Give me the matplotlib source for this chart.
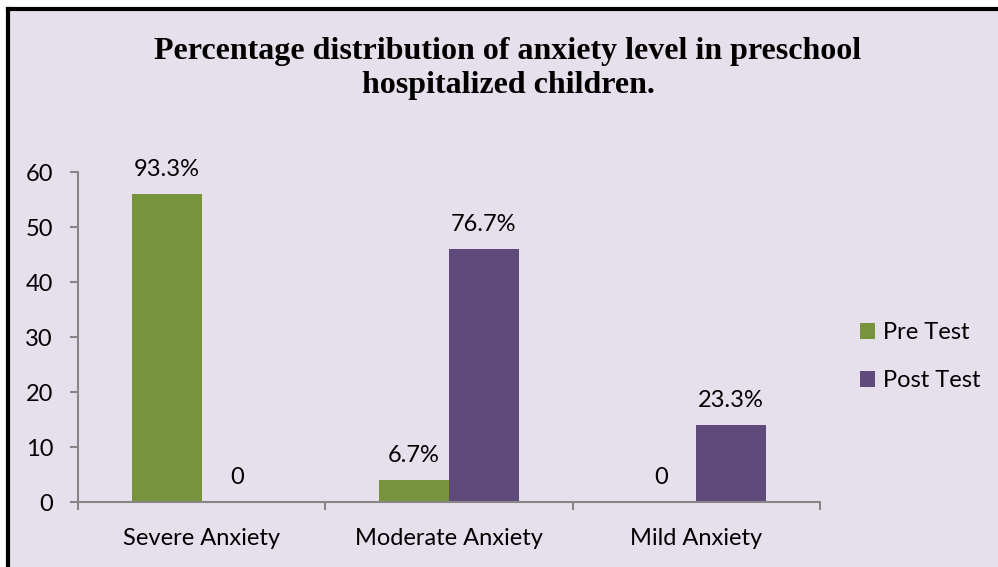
import numpy as np
import matplotlib.pyplot as plt
from matplotlib.patches import Rectangle

# ---------- dados ----------
categorias = ["Severe Anxiety", "Moderate Anxiety", "Mild Anxiety"]
pre_test = [56, 4, 0]
post_test = [0, 46, 14]
rotulos_pre = ["93.3%", "6.7%", "0"]
rotulos_post = ["0", "76.7%", "23.3%"]

verde = "#77933C"
roxo = "#604A7B"
fundo = "#E6E0EC"
cinza = "#868686"
fonte = "Lato"
tam = 17

fig = plt.figure(figsize=(9.98, 5.67), dpi=100)
fig.patch.set_facecolor("white")

# fundo lilas com borda preta (esquerda e topo)
fig.patches.append(Rectangle((0.0085, 0), 1.0, 0.985, transform=fig.transFigure,
                             facecolor=fundo, edgecolor="none", zorder=-5))
fig.add_artist(plt.Line2D([0.0085, 0.0085], [0, 0.985], transform=fig.transFigure,
                          color="black", lw=3, zorder=-4))
fig.add_artist(plt.Line2D([0.0085, 1.0], [0.985, 0.985], transform=fig.transFigure,
                          color="black", lw=3, zorder=-4))

ax = fig.add_axes([0.0782, 0.1146, 0.7434, 0.582])
ax.set_zorder(2)
ax.set_facecolor("none")

x = np.arange(len(categorias))
largura = 0.283
b1 = ax.bar(x - largura / 2, pre_test, largura, color=verde, label="Pre Test")
b2 = ax.bar(x + largura / 2, post_test, largura, color=roxo, label="Post Test")

for barras, rotulos in [(b1, rotulos_pre), (b2, rotulos_post)]:
    for barra, txt in zip(barras, rotulos):
        ax.annotate(txt, (barra.get_x() + barra.get_width() / 2, barra.get_height()),
                    xytext=(0, 10), textcoords="offset points", ha="center", va="bottom",
                    fontsize=tam, family=fonte)

ax.set_xlim(-0.5, 2.5)
ax.set_ylim(0, 60)
ax.set_yticks(range(0, 61, 10))
ax.set_xticks(x)
ax.set_xticklabels(categorias, fontsize=tam, family=fonte)
ax.set_xticks([-0.5, 0.5, 1.5, 2.5], minor=True)
ax.tick_params(axis="x", which="major", length=0, pad=19)
ax.tick_params(axis="x", which="minor", length=6, color=cinza, width=1.5)
ax.tick_params(axis="y", length=6, color=cinza, width=1.5, pad=12, labelsize=tam)
for t in ax.get_yticklabels():
    t.set_family(fonte)

for lado in ["top", "right"]:
    ax.spines[lado].set_visible(False)
for lado in ["left", "bottom"]:
    ax.spines[lado].set_color(cinza)
    ax.spines[lado].set_linewidth(1.5)

fig.text(0.509, 0.879, "Percentage distribution of anxiety level in preschool\nhospitalized children.",
         ha="center", va="center", fontsize=23, fontweight="bold",
         family="Liberation Serif", linespacing=1.25, zorder=3)

ax.legend(loc="center left", bbox_to_anchor=(1.054, 0.44), frameon=False,
          prop={"family": fonte, "size": tam}, handlelength=0.64, handleheight=0.64,
          handletextpad=0.35, labelspacing=1.15, borderpad=0, borderaxespad=0)

plt.savefig("out.png", dpi=100, facecolor=fig.get_facecolor())
